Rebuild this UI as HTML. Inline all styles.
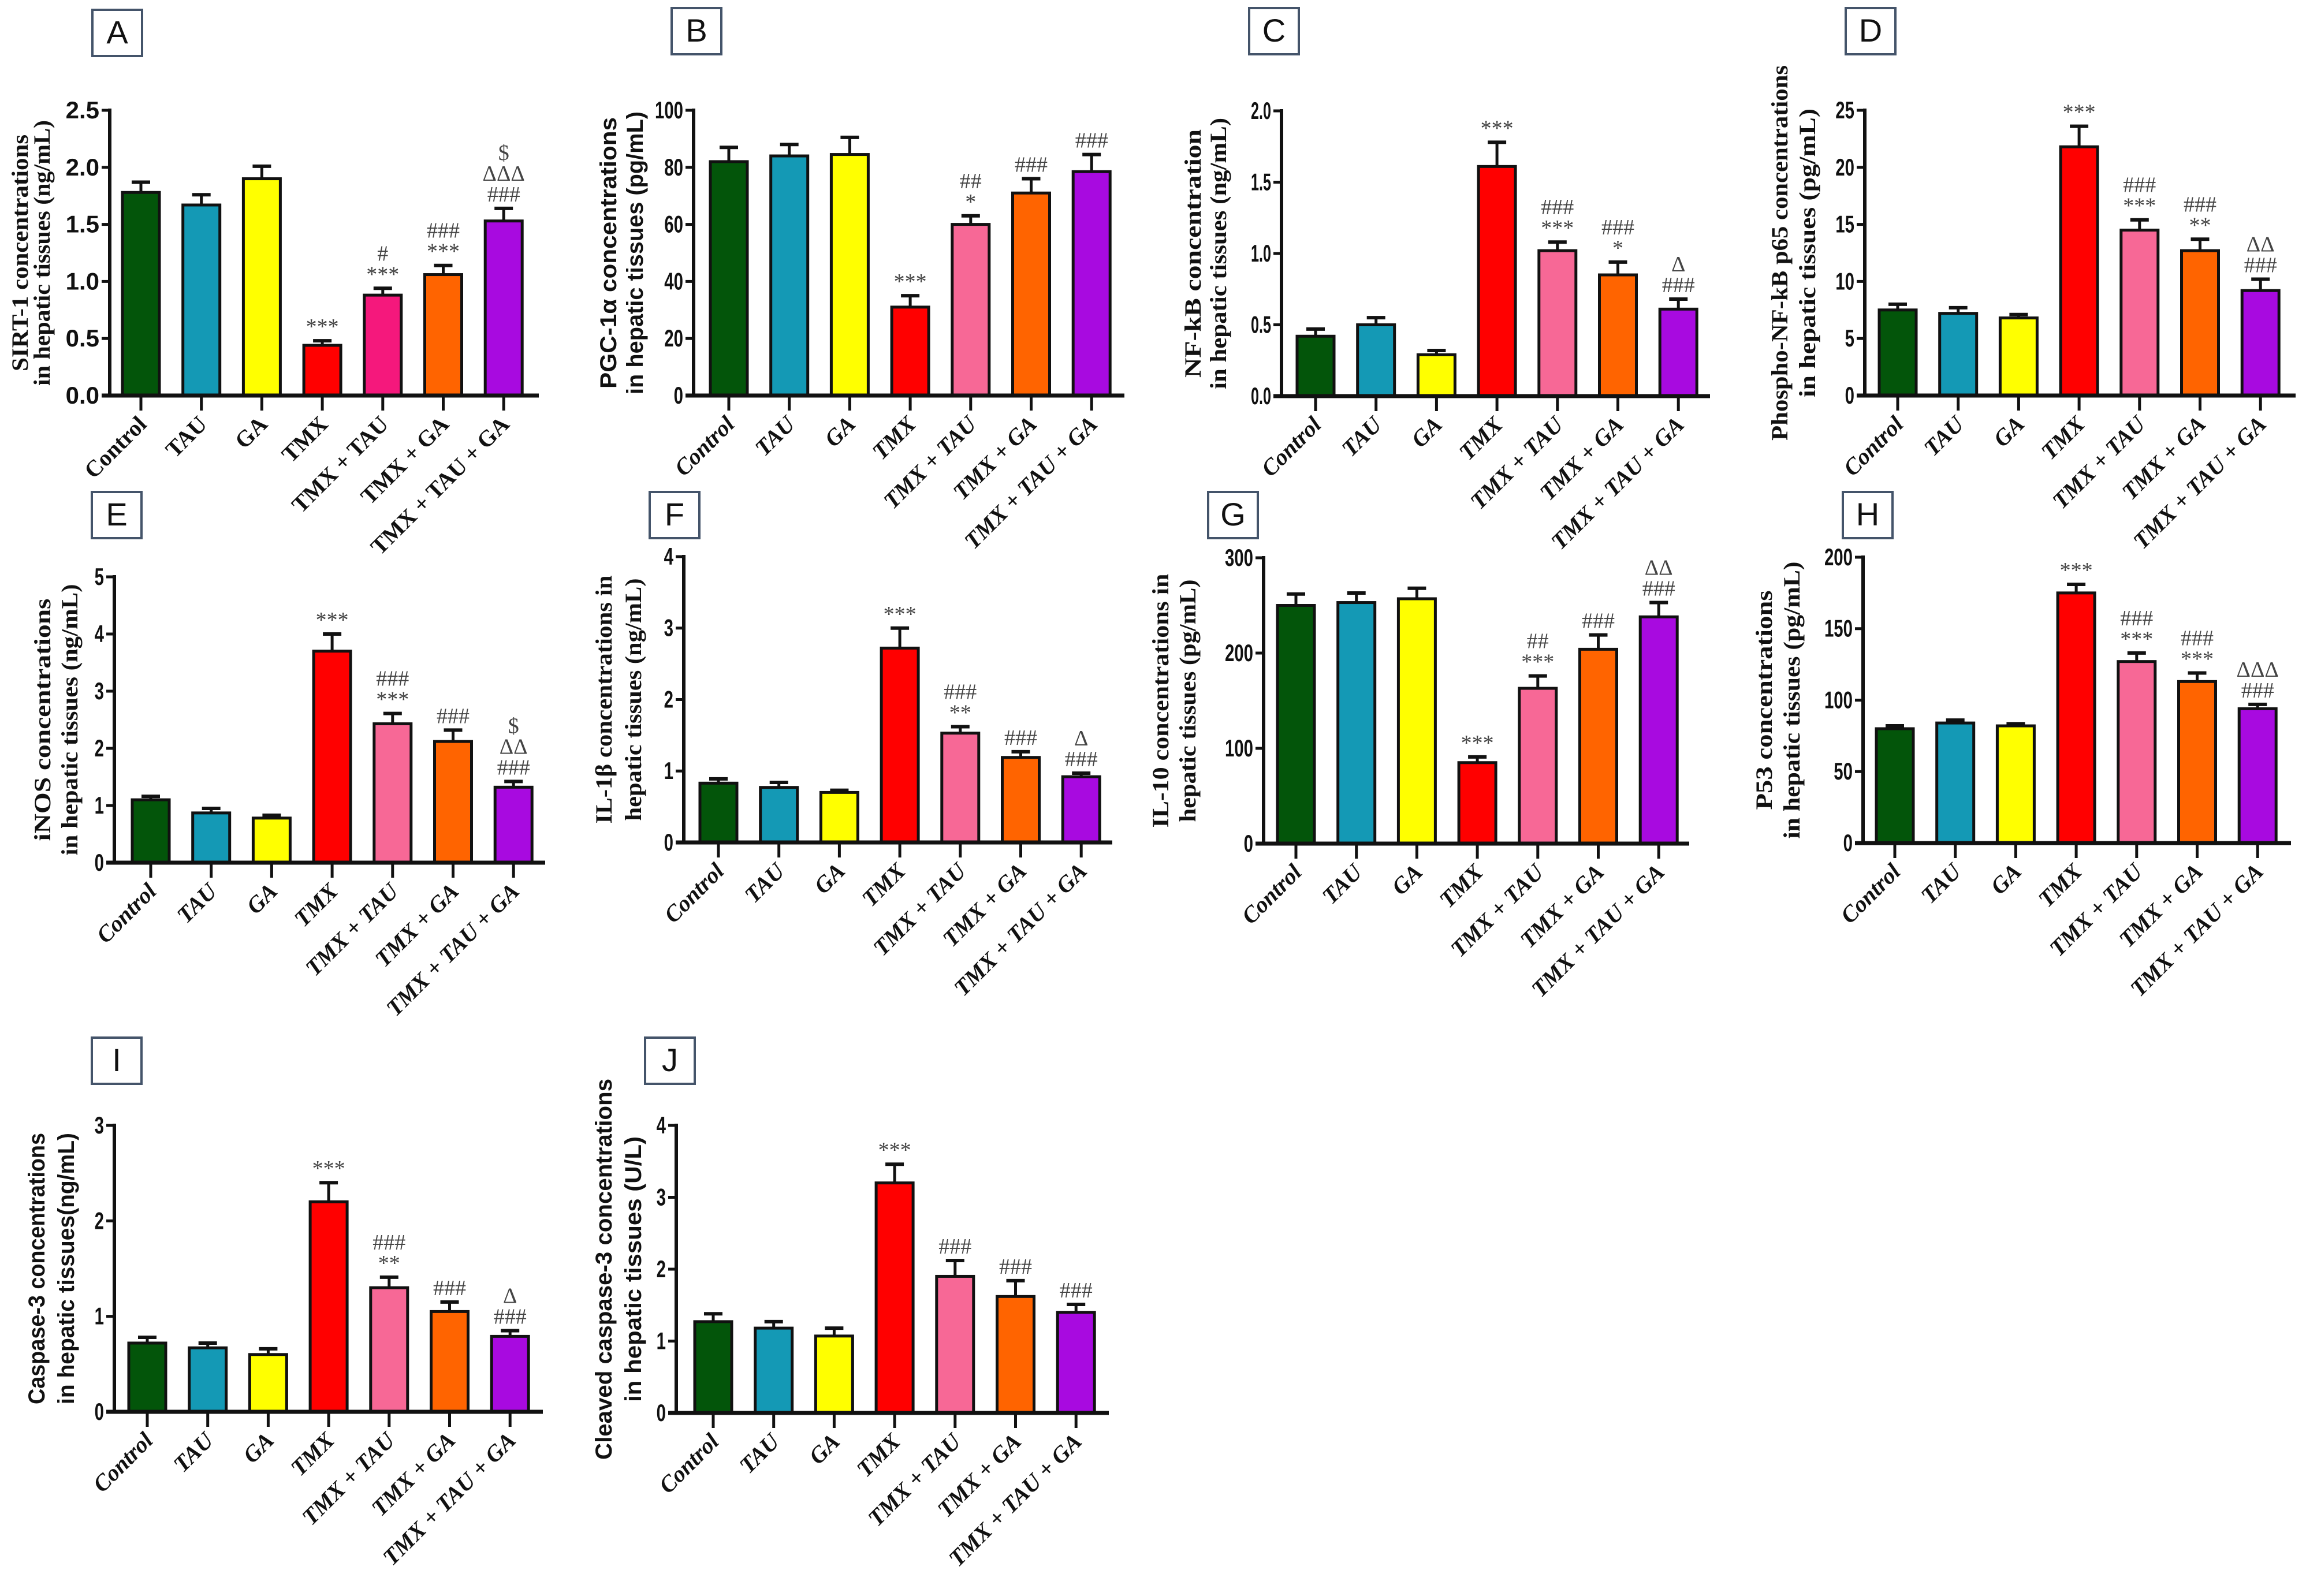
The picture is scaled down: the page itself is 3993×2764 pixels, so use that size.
<!DOCTYPE html>
<html><head><meta charset="utf-8">
<style>
html,body{margin:0;padding:0;background:#fff;}
svg{display:block;}
</style></head>
<body>
<svg id="fig" xmlns="http://www.w3.org/2000/svg" width="3993" height="2764" viewBox="0 0 3993 2764">
<rect x="0" y="0" width="3993" height="2764" fill="#fff"/>
</svg>
<script>
const categories = ["Control","TAU","GA","TMX","TMX + TAU","TMX + GA","TMX + TAU + GA"];
const colorsMain = ["#03550a","#1499b5","#ffff00","#ff0000","#f76896","#ff6400","#a80ae0"];

const valsA = [1.78,1.67,1.90,0.44,0.88,1.06,1.53];
const errsA = [0.09,0.09,0.11,0.04,0.06,0.08,0.11];
const ticksA = [0,0.5,1.0,1.5,2.0,2.5];
const tickLabelsA = ["0.0","0.5","1.0","1.5","2.0","2.5"];
const annA = [[],[],[],["***"],["#","***"],["###","***"],["$","ΔΔΔ","###"]];

const valsB = [82,84,84.5,31,60,71,78.5];
const errsB = [5,4,6,4,3,5,6];
const ticksB = [0,20,40,60,80,100];
const tickLabelsB = ["0","20","40","60","80","100"];
const annB = [[],[],[],["***"],["##","*"],["###"],["###"]];

const valsC = [0.42,0.50,0.29,1.61,1.02,0.85,0.61];
const errsC = [0.05,0.05,0.03,0.17,0.06,0.09,0.07];
const ticksC = [0,0.5,1.0,1.5,2.0];
const tickLabelsC = ["0.0","0.5","1.0","1.5","2.0"];
const annC = [[],[],[],["***"],["###","***"],["###","*"],["Δ","###"]];

const valsD = [7.5,7.2,6.8,21.8,14.5,12.7,9.2];
const errsD = [0.5,0.5,0.3,1.8,0.9,1.0,1.0];
const ticksD = [0,5,10,15,20,25];
const tickLabelsD = ["0","5","10","15","20","25"];
const annD = [[],[],[],["***"],["###","***"],["###","**"],["ΔΔ","###"]];

const valsE = [1.10,0.87,0.78,3.70,2.43,2.12,1.32];
const errsE = [0.06,0.08,0.05,0.30,0.18,0.20,0.10];
const ticksE = [0,1,2,3,4,5];
const tickLabelsE = ["0","1","2","3","4","5"];
const annE = [[],[],[],["***"],["###","***"],["###"],["$","ΔΔ","###"]];

const valsF = [0.83,0.77,0.70,2.72,1.53,1.19,0.92];
const errsF = [0.06,0.07,0.03,0.28,0.09,0.08,0.05];
const ticksF = [0,1,2,3,4];
const tickLabelsF = ["0","1","2","3","4"];
const annF = [[],[],[],["***"],["###","**"],["###"],["Δ","###"]];

const valsG = [250,253,257,85,163,204,238];
const errsG = [12,10,11,6,13,15,15];
const ticksG = [0,100,200,300];
const tickLabelsG = ["0","100","200","300"];
const annG = [[],[],[],["***"],["##","***"],["###"],["ΔΔ","###"]];

const valsH = [80,84,82,175,127,113,94];
const errsH = [2,2,1.5,6,6,6,3];
const ticksH = [0,50,100,150,200];
const tickLabelsH = ["0","50","100","150","200"];
const annH = [[],[],[],["***"],["###","***"],["###","***"],["ΔΔΔ","###"]];

const valsI = [0.72,0.67,0.60,2.20,1.30,1.05,0.79];
const errsI = [0.06,0.05,0.06,0.20,0.11,0.10,0.06];
const ticksI = [0,1,2,3];
const tickLabelsI = ["0","1","2","3"];
const annI = [[],[],[],["***"],["###","**"],["###"],["Δ","###"]];

const valsJ = [1.27,1.18,1.07,3.20,1.90,1.62,1.40];
const errsJ = [0.11,0.09,0.11,0.26,0.22,0.22,0.11];
const ticksJ = [0,1,2,3,4];
const tickLabelsJ = ["0","1","2","3","4"];
const annJ = [[],[],[],["***"],["###"],["###"],["###"]];

const NS = "http://www.w3.org/2000/svg";
const svg = document.getElementById('fig');
function mk(tag, attrs, parent){
  const e = document.createElementNS(NS, tag);
  for (const k in attrs) e.setAttribute(k, attrs[k]);
  (parent||svg).appendChild(e);
  return e;
}
const SERIF = '"Liberation Serif", serif';
const SANS = '"Liberation Sans", sans-serif';

const panels = [
 {id:"a", L:"A", box:[160,17], ax:190, zero:685, top:191, xend:933, c0:244, max:2.5, vals:valsA, errs:errsA, ticks:ticksA, tl:tickLabelsA, ann:annA, pink:"#f5187c", italic:false, tickFont:SANS, tickStretch:1,
  title:["SIRT-1 concentrations","in hepatic tissues (ng/mL)"], tOff:[-142,-104], tFont:SERIF, tLen:[410,460]},
 {id:"b", L:"B", box:[1163,14], ax:1201, zero:685, top:191, xend:1947, c0:1262, max:100, vals:valsB, errs:errsB, ticks:ticksB, tl:tickLabelsB, ann:annB, italic:true, tickFont:SANS, tickStretch:0.7,
  title:["PGC-1α  concentrations","in hepatic tissues (pg/mL)"], tOff:[-134,-88], tFont:SANS, tLen:[470,490]},
 {id:"c", L:"C", box:[2163,14], ax:2219, zero:686, top:192, xend:2961, c0:2278, max:2.0, vals:valsC, errs:errsC, ticks:ticksC, tl:tickLabelsC, ann:annC, italic:true, tickFont:SANS, tickStretch:0.6,
  title:["NF-kB concentration","in hepatic tissues (ng/mL)"], tOff:[-140,-96], tFont:SERIF, tLen:[430,470]},
 {id:"d", L:"D", box:[3196,14], ax:3229, zero:685, top:191, xend:3975, c0:3286, max:25, vals:valsD, errs:errsD, ticks:ticksD, tl:tickLabelsD, ann:annD, italic:true, tickFont:SANS, tickStretch:0.7,
  title:["Phospho-NF-kB p65 concentrations","in hepatic tissues (pg/mL)"], tOff:[-134,-86], tFont:SERIF, tLen:[650,500]},
 {id:"e", L:"E", box:[159,852], ax:198, zero:1494, top:999, xend:944, c0:261, max:5, vals:valsE, errs:errsE, ticks:ticksE, tl:tickLabelsE, ann:annE, italic:true, tickFont:SANS, tickStretch:0.7,
  title:["iNOS concentrations","in hepatic tissues (ng/mL)"], tOff:[-111,-64], tFont:SERIF, tLen:[420,470]},
 {id:"f", L:"F", box:[1125,852], ax:1184, zero:1459, top:964, xend:1926, c0:1244, max:4, vals:valsF, errs:errsF, ticks:ticksF, tl:tickLabelsF, ann:annF, italic:true, tickFont:SANS, tickStretch:0.7,
  title:["IL-1β concentrations in","hepatic tissues (ng/mL)"], tOff:[-125,-74], tFont:SERIF, tLen:[430,420]},
 {id:"g", L:"G", box:[2092,852], ax:2188, zero:1461, top:966, xend:2925, c0:2244, max:300, vals:valsG, errs:errsG, ticks:ticksG, tl:tickLabelsG, ann:annG, italic:true, tickFont:SANS, tickStretch:0.7,
  title:["IL-10 concentrations in","hepatic tissues (pg/mL)"], tOff:[-165,-118], tFont:SERIF, tLen:[440,420]},
 {id:"h", L:"H", box:[3191,852], ax:3226, zero:1460, top:965, xend:3967, c0:3281, max:200, vals:valsH, errs:errsH, ticks:ticksH, tl:tickLabelsH, ann:annH, italic:true, tickFont:SANS, tickStretch:0.7,
  title:["P53 concentrations","in hepatic tissues (pg/mL)"], tOff:[-158,-110], tFont:SERIF, tLen:[380,480]},
 {id:"i", L:"I", box:[159,1797], ax:198, zero:2445, top:1949, xend:940, c0:255, max:3, vals:valsI, errs:errsI, ticks:ticksI, tl:tickLabelsI, ann:annI, italic:true, tickFont:SANS, tickStretch:0.7,
  title:["Caspase-3 concentrations","in hepatic tissues(ng/mL)"], tOff:[-121,-70], tFont:SANS, tLen:[470,470]},
 {id:"j", L:"J", box:[1117,1797], ax:1171, zero:2447, top:1949, xend:1920, c0:1235, max:4, vals:valsJ, errs:errsJ, ticks:ticksJ, tl:tickLabelsJ, ann:annJ, italic:true, tickFont:SANS, tickStretch:0.7,
  title:["Cleaved caspase-3 concentrations","in hepatic tissues (U/L)"], tOff:[-112,-61], tFont:SANS, tLen:[660,460]}
];

const SPACING = 104.7, BW = 64;

panels.forEach(p => {
  const g = mk('g', {});
  
  
  const y = v => p.zero - (v / p.max) * (p.zero - p.top);
  const xc = i => p.c0 + i * SPACING;

  // label box
  const bx = mk('g', {}, g);
  
  
  mk('rect', {x:p.box[0], y:p.box[1], width:86, height:80, fill:'#fff', stroke:'#44546a', 'stroke-width':4}, bx);
  const lt = mk('text', {x:p.box[0]+43, y:p.box[1]+58, 'text-anchor':'middle', 'font-family':SANS, 'font-size':56, fill:'#111'}, bx);
  lt.textContent = p.L;

  // bars
  p.vals.forEach((v, i) => {
    const col = (i === 4 && p.pink) ? p.pink : colorsMain[i];
    const top = y(v), etop = y(v + p.errs[i]);
    const eb = mk('line', {x1:xc(i), x2:xc(i), y1:top, y2:etop, stroke:'#111', 'stroke-width':5}, g);
    
    
    mk('line', {x1:xc(i)-16, x2:xc(i)+16, y1:etop, y2:etop, stroke:'#111', 'stroke-width':6}, g);
    const r = mk('rect', {x:xc(i)-BW/2, y:top, width:BW, height:p.zero-top, fill:col, stroke:'#111', 'stroke-width':5}, g);
    
    
    // annotations
    const lines = p.ann[i];
    const n = lines.length;
    lines.forEach((s, k) => {
      const t = mk('text', {x:xc(i), y:etop - 12 - (n-1-k)*36, 'text-anchor':'middle', 'font-family':SERIF, 'font-size':38, fill:'#444'}, g);
      
      
      t.textContent = s;
    });
    // x tick
    mk('line', {x1:xc(i), x2:xc(i), y1:p.zero, y2:p.zero+26, stroke:'#111', 'stroke-width':5}, g);
    // category label
    const lx = xc(i) + 12, ly = p.zero + 52;
    const ct = mk('text', {x:lx, y:ly, 'text-anchor':'end', 'font-family':SERIF, 'font-weight':'bold', 'font-style':p.italic?'italic':'normal', 'font-size':40, fill:'#111', transform:`rotate(-45 ${lx} ${ly})`}, g);
    
    
    ct.textContent = categories[i];
  });

  // axes
  const ya = mk('line', {x1:p.ax, x2:p.ax, y1:p.top-3, y2:p.zero+3, stroke:'#111', 'stroke-width':6}, g);
  
  
  const xa = mk('line', {x1:p.ax-14, x2:p.xend, y1:p.zero, y2:p.zero, stroke:'#111', 'stroke-width':7}, g);
  
  
  p.ticks.forEach((tv, k) => {
    const ty = y(tv);
    mk('line', {x1:p.ax-14, x2:p.ax, y1:ty, y2:ty, stroke:'#111', 'stroke-width':5}, g);
    const tx = p.ax - 18;
    const t = mk('text', {x:tx, y:ty+14, 'text-anchor':'end', 'font-family':p.tickFont, 'font-weight':'bold', 'font-size':42, fill:'#111', transform:`translate(${tx} 0) scale(${p.tickStretch} 1) translate(${-tx} 0)`}, g);
    
    
    t.textContent = p.tl[k];
  });

  // y-axis title
  const cy = (p.top + p.zero) / 2;
  p.title.forEach((s, k) => {
    const tx = p.ax + p.tOff[k];
    const t = mk('text', {x:tx, y:cy, 'text-anchor':'middle', 'font-family':p.tFont, 'font-weight':'bold', 'font-size':40, fill:'#111', textLength:p.tLen[k], lengthAdjust:'spacingAndGlyphs', transform:`rotate(-90 ${tx} ${cy})`}, g);
    
    
    t.textContent = s;
  });
});
</script>
</body></html>
